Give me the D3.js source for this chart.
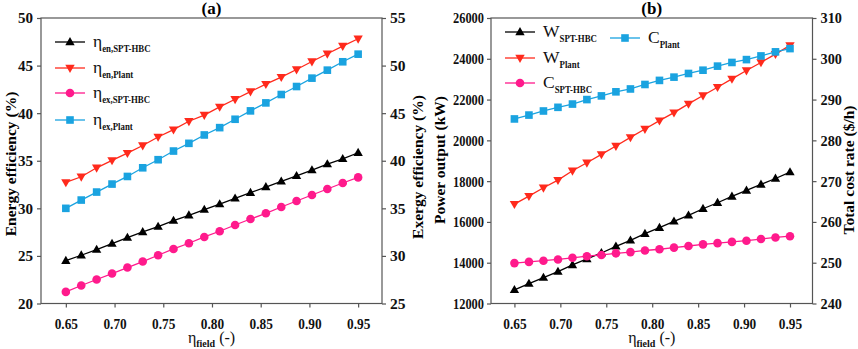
<!DOCTYPE html>
<html><head><meta charset="utf-8">
<script src="https://cdn.jsdelivr.net/npm/d3@7"></script>
<style>body{margin:0;background:#fff}svg{display:block}</style>
</head><body>
<svg id="c" width="858" height="349" font-family="Liberation Serif"></svg>
<script>
const etaField = [0.65,0.6658,0.6816,0.6974,0.7132,0.7289,0.7447,0.7605,0.7763,0.7921,0.8079,0.8237,0.8395,0.8553,0.8711,0.8868,0.9026,0.9184,0.9342,0.95];
const xTicks = [0.65,0.70,0.75,0.80,0.85,0.90,0.95];
// Panel (a)
const etaEnSPT = [24.5,25.07,25.66,26.29,26.92,27.52,28.08,28.71,29.27,29.86,30.45,31.05,31.64,32.24,32.83,33.42,34.02,34.65,35.2,35.84];
const etaEnPlant = [32.72,33.32,34.26,35.04,35.8,36.6,37.5,38.27,39.15,39.8,40.66,41.46,42.27,43.05,43.78,44.59,45.43,46.24,47.05,47.82];
const etaExSPT = [26.22,26.89,27.52,28.15,28.78,29.41,30.07,30.73,31.33,31.99,32.59,33.25,33.88,34.48,35.14,35.77,36.4,37.03,37.66,38.25];
const etaExPlant = [35.0,35.87,36.71,37.55,38.35,39.26,40.11,41.02,41.83,42.71,43.48,44.36,45.24,46.08,46.96,47.8,48.68,49.52,50.4,51.2];
const aLeftTicks = [20,25,30,35,40,45,50];
const aRightTicks = [25,30,35,40,45,50,55];
// Panel (b)
const wSPT = [12668,12978,13272,13565,13891,14185,14478,14804,15098,15424,15717,16027,16321,16647,16940,17250,17543,17837,18130,18440];
const wPlant = [16875,17266,17674,18049,18508,18902,19311,19721,20148,20557,20967,21361,21787,22197,22607,23016,23426,23820,24230,24656];
const cSPT = [249.9,250.2,250.5,250.8,251.2,251.6,251.9,252.3,252.6,253.0,253.3,253.7,254.1,254.5,254.8,255.1,255.4,255.8,256.2,256.5];
const cPlant = [285.25,286.2,287.2,288.1,288.9,290.0,290.9,291.9,292.6,293.7,294.7,295.5,296.4,297.2,298.2,299.1,299.8,300.7,301.7,302.5];
const bLeftTicks = [12000,14000,16000,18000,20000,22000,24000,26000];
const bRightTicks = [240,250,260,270,280,290,300,310];

const COL = {black:"#000000", red:"#ff2a1c", pink:"#ff1a8c", blue:"#1aa3e0"};
const FONT = "Liberation Serif";
const svg = d3.select("#c");

function condense(sel, f){
  sel.each(function(){
    const w = this.getComputedTextLength();
    if(w>0) d3.select(this).attr("textLength", w*f).attr("lengthAdjust","spacingAndGlyphs");
  });
}

function marker(g, type, x, y, color){
  if(type==="circle"){
    g.append("circle").attr("cx",x).attr("cy",y).attr("r",4.3).attr("fill",color);
  } else if(type==="square"){
    g.append("rect").attr("x",x-3.8).attr("y",y-3.8).attr("width",7.6).attr("height",7.6).attr("fill",color);
  } else if(type==="up"){
    g.append("path").attr("d",d3.symbol(d3.symbolTriangle,38)()).attr("transform",`translate(${x},${y+0.5})`).attr("fill",color);
  } else {
    g.append("path").attr("d",d3.symbol(d3.symbolTriangle,38)()).attr("transform",`translate(${x},${y-0.5}) rotate(180)`).attr("fill",color);
  }
}

function panel(cfg){
  const {left,right,top,bottom} = cfg;
  const g = svg.append("g").attr("font-family",FONT);
  const x = d3.scaleLinear().domain([0.6245,0.9745]).range([left,right]);
  const yL = d3.scaleLinear().domain(cfg.lDom).range([bottom,top]);
  const yR = d3.scaleLinear().domain(cfg.rDom).range([bottom,top]);

  g.append("rect").attr("x",left).attr("y",top).attr("width",right-left).attr("height",bottom-top)
    .attr("fill","none").attr("stroke","#555").attr("stroke-width",1.2);

  const styleAxis = a => {
    a.attr("font-family",FONT);
    a.select(".domain").remove();
    a.selectAll("line").attr("stroke","#555").attr("stroke-width",1.2);
    a.selectAll("text").attr("font-family",FONT).attr("font-weight","bold").attr("font-size",15.5).attr("fill","#111");
  };
  const ax = g.append("g").attr("transform",`translate(0,${bottom})`)
    .call(d3.axisBottom(x).tickValues(xTicks).tickFormat(d3.format(".2f")).tickSize(4).tickPadding(10))
    .call(styleAxis);
  condense(ax.selectAll("text"), 0.86);
  const al = g.append("g").attr("transform",`translate(${left},0)`)
    .call(d3.axisLeft(yL).tickValues(cfg.lTicks).tickFormat(d3.format("d")).tickSize(4).tickPadding(cfg.lPad))
    .call(styleAxis);
  condense(al.selectAll("text"), cfg.lCond);
  const ar = g.append("g").attr("transform",`translate(${right},0)`)
    .call(d3.axisRight(yR).tickValues(cfg.rTicks).tickFormat(d3.format("d")).tickSize(4).tickPadding(4))
    .call(styleAxis);
  condense(ar.selectAll("text"), cfg.rCond);

  cfg.series.forEach(s=>{
    const y = s.axis==="L"? yL : yR;
    const pts = etaField.map((v,i)=>[x(v), y(s.data[i])]);
    g.append("path").attr("d",d3.line()(pts)).attr("fill","none").attr("stroke",s.color).attr("stroke-width",1.3);
    pts.forEach(p=>marker(g,s.marker,p[0],p[1],s.color));
  });

  cfg.series.forEach(s=>{
    const L = s.leg;
    g.append("line").attr("x1",L.x).attr("x2",L.x+30).attr("y1",L.y).attr("y2",L.y).attr("stroke",s.color).attr("stroke-width",1.3);
    marker(g,s.marker,L.x+15,L.y,s.color);
    const t = g.append("text").attr("x",L.x+38).attr("y",L.y+5).attr("fill","#111").attr("font-family",FONT);
    t.append("tspan").attr("font-size",17.5).text(s.main);
    const sub = t.append("tspan").attr("font-size",11).attr("font-weight","bold").attr("dy",4.5).text(s.sub);
    condense(sub, 0.8);
  });

  g.append("text").attr("x",(left+right)/2).attr("y",14).attr("text-anchor","middle").attr("font-family",FONT)
    .attr("font-weight","bold").attr("font-size",17).text(cfg.title);
  const xl = g.append("text").attr("x",(left+right)/2).attr("y",343).attr("text-anchor","middle").attr("fill","#111").attr("font-family",FONT);
  xl.append("tspan").attr("font-size",16).text("η");
  xl.append("tspan").attr("font-size",10).attr("font-weight","bold").attr("dy",4).text("field");
  xl.append("tspan").attr("font-size",16).attr("dy",-4).text(" (-)");
  g.append("text").attr("transform",`translate(${cfg.lLab[0]},${cfg.lLab[1]}) rotate(-90)`).attr("text-anchor","middle").attr("font-family",FONT)
    .attr("font-weight","bold").attr("font-size",15.5).text(cfg.lLabel);
  g.append("text").attr("transform",`translate(${cfg.rLab[0]},${cfg.rLab[1]}) rotate(-90)`).attr("text-anchor","middle").attr("font-family",FONT)
    .attr("font-weight","bold").attr("font-size",15.5).text(cfg.rLabel);
}

panel({left:41,right:382,top:18,bottom:303.5,title:"(a)",
  lDom:[20,50], rDom:[25,55], lTicks:aLeftTicks, rTicks:aRightTicks, lPad:4, lCond:0.97, rCond:1,
  lLabel:"Energy efficiency (%)", rLabel:"Exergy efficiency (%)", lLab:[16,164], rLab:[423,167],
  series:[
    {data:etaEnSPT,axis:"L",color:COL.black,marker:"up",main:"η",sub:"en,SPT-HBC",leg:{x:55,y:42}},
    {data:etaEnPlant,axis:"L",color:COL.red,marker:"down",main:"η",sub:"en,Plant",leg:{x:55,y:68}},
    {data:etaExSPT,axis:"R",color:COL.pink,marker:"circle",main:"η",sub:"ex,SPT-HBC",leg:{x:55,y:93}},
    {data:etaExPlant,axis:"R",color:COL.blue,marker:"square",main:"η",sub:"ex,Plant",leg:{x:55,y:120}}
  ]});

panel({left:491,right:812.5,top:18,bottom:303.5,title:"(b)",
  lDom:[12000,26000], rDom:[240,310], lTicks:bLeftTicks, rTicks:bRightTicks, lPad:3, lCond:0.8, rCond:0.92,
  lLabel:"Power output (kW)", rLabel:"Total cost rate ($/h)", lLab:[445,160], rLab:[854,170],
  series:[
    {data:wSPT,axis:"L",color:COL.black,marker:"up",main:"W",sub:"SPT-HBC",leg:{x:505,y:32}},
    {data:wPlant,axis:"L",color:COL.red,marker:"down",main:"W",sub:"Plant",leg:{x:505,y:58}},
    {data:cSPT,axis:"R",color:COL.pink,marker:"circle",main:"C",sub:"SPT-HBC",leg:{x:505,y:83}},
    {data:cPlant,axis:"R",color:COL.blue,marker:"square",main:"C",sub:"Plant",leg:{x:610,y:38}}
  ]});
</script>
</body></html>
